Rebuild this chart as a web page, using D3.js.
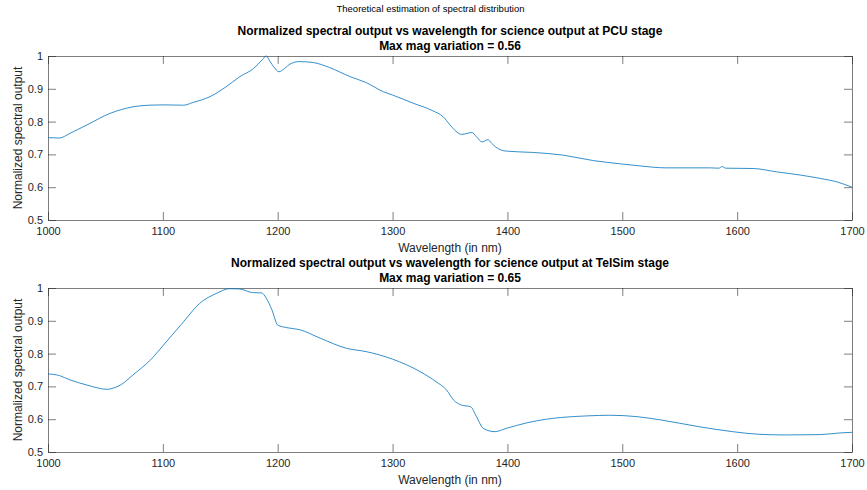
<!DOCTYPE html>
<html lang="en">
<head>
<meta charset="UTF-8">
<title>Theoretical estimation of spectral distribution</title>
<script src="https://d3js.org/d3.v7.min.js"></script>
<style>
  body { margin: 0; background: #fff; }
  svg { display: block; font-family: "Liberation Sans", Arial, sans-serif; }
  .tick text { fill: #262626; font-size: 11px; }
</style>
</head>
<body>
<div id="container"></div>
<script>
// PCU stage curve (wavelength nm, normalized output)
const pcuWave = [1000, 1010, 1019, 1034, 1054, 1074, 1088, 1100, 1118, 1126, 1141, 1155, 1167, 1179, 1187, 1190, 1193,
  1197, 1201, 1206, 1211, 1219, 1231, 1245, 1263, 1277, 1292, 1300, 1318, 1335, 1344, 1350, 1356, 1360, 1365, 1369,
  1373, 1378, 1383, 1386, 1390, 1399, 1422, 1448, 1475, 1499, 1515, 1538, 1560, 1576, 1584, 1587, 1590, 1614, 1634,
  1655, 1672, 1688, 1700];
const pcuValue = [0.751, 0.750, 0.764, 0.790, 0.825, 0.845, 0.850, 0.851, 0.850, 0.858, 0.876, 0.906, 0.937, 0.962, 0.990, 1.000, 0.985,
  0.965, 0.952, 0.962, 0.976, 0.983, 0.980, 0.965, 0.937, 0.919, 0.891, 0.881, 0.856, 0.833, 0.815, 0.790, 0.768, 0.761, 0.764, 0.767,
  0.754, 0.738, 0.745, 0.735, 0.722, 0.710, 0.706, 0.698, 0.681, 0.671, 0.665, 0.659, 0.659, 0.659, 0.658, 0.663, 0.658, 0.657, 0.647,
  0.637, 0.627, 0.615, 0.600];

// TelSim stage curve
const telWave = [1000, 1010, 1019, 1034, 1045, 1051, 1057, 1063, 1074, 1089, 1103, 1118, 1132, 1147, 1158, 1167, 1178, 1186,
  1190, 1195, 1200, 1208, 1219, 1237, 1260, 1277, 1300, 1324, 1338, 1347, 1353, 1360, 1368, 1373, 1379, 1389, 1399,
  1417, 1434, 1446, 1469, 1489, 1512, 1533, 1567, 1596, 1619, 1642, 1672, 1689, 1700];
const telValue = [0.738, 0.733, 0.720, 0.704, 0.694, 0.691, 0.695, 0.704, 0.735, 0.780, 0.836, 0.897, 0.953, 0.984, 0.998, 0.997, 0.986, 0.985,
  0.969, 0.933, 0.887, 0.879, 0.873, 0.847, 0.816, 0.806, 0.783, 0.745, 0.714, 0.689, 0.659, 0.643, 0.638, 0.608, 0.572, 0.562, 0.572,
  0.589, 0.600, 0.605, 0.610, 0.612, 0.608, 0.598, 0.577, 0.562, 0.554, 0.552, 0.553, 0.558, 0.560];

const xTicks = [1000, 1100, 1200, 1300, 1400, 1500, 1600, 1700];
const yTicks = [0.5, 0.6, 0.7, 0.8, 0.9, 1];

const panels = [
  { wave: pcuWave, value: pcuValue, top: 56, title: "Normalized spectral output vs wavelength for science output at PCU stage", sub: "Max mag variation = 0.56" },
  { wave: telWave, value: telValue, top: 288, title: "Normalized spectral output vs wavelength for science output at TelSim stage", sub: "Max mag variation = 0.65" }
];

const width = 867, height = 490;
const left = 48, right = 852, plotH = 164;
const axisColor = "#262626";
const lineColor = "#0072BD";
const tickLen = 8;

const svg = d3.select("#container").append("svg")
  .attr("width", width)
  .attr("height", height);

svg.append("text")
  .attr("x", width / 2 - 3)
  .attr("y", 12)
  .attr("text-anchor", "middle")
  .attr("font-size", "9.5px")
  .attr("fill", "#000")
  .text("Theoretical estimation of spectral distribution");

const x = d3.scaleLinear().domain([1000, 1700]).range([left, right]);

panels.forEach(p => {
  const y = d3.scaleLinear().domain([0.5, 1]).range([p.top + plotH, p.top]);
  const g = svg.append("g");

  // titles
  g.append("text")
    .attr("x", (left + right) / 2)
    .attr("y", p.top - 21)
    .attr("text-anchor", "middle")
    .attr("font-size", "12px")
    .attr("font-weight", "bold")
    .attr("fill", "#000")
    .text(p.title);
  g.append("text")
    .attr("x", (left + right) / 2)
    .attr("y", p.top - 6)
    .attr("text-anchor", "middle")
    .attr("font-size", "12px")
    .attr("font-weight", "bold")
    .attr("fill", "#000")
    .text(p.sub);

  // axes, ticks pointing inward on all four sides
  const xb = g.append("g")
    .attr("transform", `translate(0,${p.top + plotH})`)
    .call(d3.axisBottom(x).tickValues(xTicks).tickFormat(d3.format("d")).tickSizeInner(-tickLen).tickSizeOuter(0).tickPadding(7));
  const xt = g.append("g")
    .attr("transform", `translate(0,${p.top})`)
    .call(d3.axisTop(x).tickValues(xTicks).tickFormat("").tickSizeInner(-tickLen).tickSizeOuter(0));
  const yl = g.append("g")
    .attr("transform", `translate(${left},0)`)
    .call(d3.axisLeft(y).tickValues(yTicks).tickFormat(d => d === 1 ? "1" : d3.format(".1f")(d)).tickSizeInner(-tickLen).tickSizeOuter(0).tickPadding(5));
  const yr = g.append("g")
    .attr("transform", `translate(${right},0)`)
    .call(d3.axisRight(y).tickValues(yTicks).tickFormat("").tickSizeInner(-tickLen).tickSizeOuter(0));

  [xb, xt, yl, yr].forEach(a => {
    a.select(".domain").attr("stroke", axisColor).attr("stroke-width", 0.6);
    a.selectAll(".tick line").attr("stroke", axisColor).attr("stroke-width", 0.6);
  });

  // axis labels
  g.append("text")
    .attr("x", (left + right) / 2)
    .attr("y", p.top + plotH + 32)
    .attr("text-anchor", "middle")
    .attr("font-size", "12px")
    .attr("fill", axisColor)
    .text("Wavelength (in nm)");
  g.append("text")
    .attr("transform", `translate(22,${p.top + plotH / 2}) rotate(-90)`)
    .attr("text-anchor", "middle")
    .attr("font-size", "12px")
    .attr("fill", axisColor)
    .text("Normalized spectral output");

  // curve
  const pts = p.wave.map((w, i) => [w, p.value[i]]);
  g.append("path")
    .datum(pts)
    .attr("fill", "none")
    .attr("stroke", lineColor)
    .attr("stroke-width", 0.8)
    .attr("d", d3.line().x(d => x(d[0])).y(d => y(d[1])).curve(d3.curveMonotoneX));
});
</script>
</body>
</html>
